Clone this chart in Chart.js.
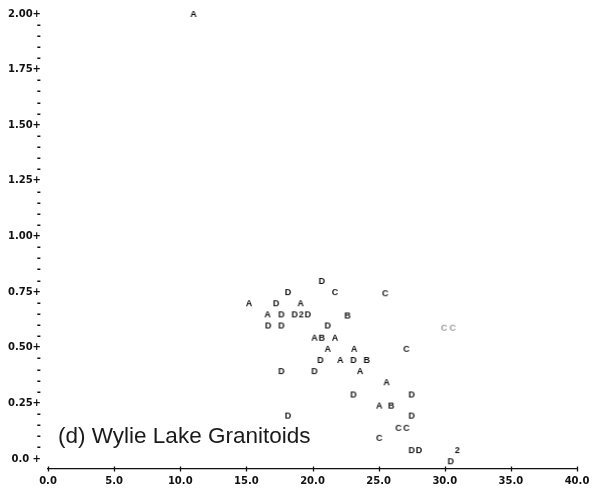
<!DOCTYPE html>
<html>
<head>
<meta charset="utf-8">
<title>Wylie Lake Granitoids</title>
<script src="https://cdn.jsdelivr.net/npm/chart.js@4"></script>
<style>
  html, body { margin: 0; padding: 0; background: #ffffff; }
  #wrap { width: 605px; height: 491px; }
</style>
</head>
<body>
<div id="wrap"><canvas id="wylieChart" width="605" height="491"></canvas></div>
<script>
// sample points (letter = plotting symbol)
const xVals = [11.0, 20.7, 18.15, 21.7, 25.5, 15.2, 17.25, 19.1, 16.6, 17.65, 18.65, 19.15, 19.65, 22.65,
  16.65, 17.65, 21.15, 20.15, 20.7, 21.7, 21.15, 23.15, 27.1, 20.6, 22.1, 23.1, 24.1, 17.65, 20.15,
  23.6, 25.6, 23.1, 27.5, 25.05, 25.95, 18.15, 27.5, 26.5, 27.1, 25.05, 27.5, 28.05, 30.95, 30.45];
const yVals = [2.0, 0.80, 0.75, 0.75, 0.745, 0.70, 0.70, 0.70, 0.65, 0.65, 0.65, 0.65, 0.65, 0.645,
  0.60, 0.60, 0.60, 0.545, 0.545, 0.545, 0.495, 0.495, 0.495, 0.445, 0.445, 0.445, 0.445, 0.395, 0.395,
  0.395, 0.345, 0.29, 0.29, 0.24, 0.24, 0.195, 0.195, 0.14, 0.14, 0.095, 0.04, 0.04, 0.04, -0.01];
const marks = ["A", "D", "D", "C", "C", "A", "D", "A", "A", "D", "D", "2", "D", "B",
  "D", "D", "D", "A", "B", "A", "A", "A", "C", "D", "A", "D", "B", "D", "D",
  "A", "A", "D", "D", "A", "B", "D", "D", "C", "C", "C", "D", "D", "2", "D"];

// the faint pair at the right
const faintX = [29.95, 30.6];
const faintY = [0.59, 0.59];
const faintMarks = ["C", "C"];

const xTickValues = [0, 5, 10, 15, 20, 25, 30, 35, 40];
const xTickLabels = ["0.0", "5.0", "10.0", "15.0", "20.0", "25.0", "30.0", "35.0", "40.0"];
const yTickValues = [0, 0.25, 0.5, 0.75, 1.0, 1.25, 1.5, 1.75, 2.0];
const yTickLabels = ["0.0", "0.25", "0.50", "0.75", "1.00", "1.25", "1.50", "1.75", "2.00"];

const plotTitle = "(d) Wylie Lake Granitoids";

// letters are drawn as little canvases used as point styles
const glyphCache = {};
function glyph(ch, color) {
  const key = ch + color;
  if (glyphCache[key]) return glyphCache[key];
  const c = document.createElement("canvas");
  c.width = 12;
  c.height = 12;
  const g = c.getContext("2d");
  g.fillStyle = color;
  g.font = "bold 9px 'Liberation Sans', Arial, sans-serif";
  g.textAlign = "center";
  g.textBaseline = "middle";
  g.fillText(ch, 6, 6.5);
  glyphCache[key] = c;
  return c;
}

const tickFont = { family: "'DejaVu Sans', sans-serif", size: 10, weight: "bold" };

// "+" marks on the dashed x axis, and the panel caption
const axisDecor = {
  id: "axisDecor",
  afterDraw(chart) {
    const { ctx, chartArea, scales } = chart;
    ctx.save();
    ctx.strokeStyle = "#111";
    ctx.lineWidth = 1.3;
    xTickValues.forEach(v => {
      const px = Math.round(scales.x.getPixelForValue(v)) + 0.5;
      ctx.beginPath();
      ctx.moveTo(px, chartArea.bottom - 2.5);
      ctx.lineTo(px, chartArea.bottom + 2.5);
      ctx.stroke();
    });
    ctx.fillStyle = "#1a1a1a";
    ctx.font = "22.5px 'Liberation Sans', Arial, sans-serif";
    ctx.textAlign = "left";
    ctx.textBaseline = "alphabetic";
    ctx.fillText(plotTitle, scales.x.getPixelForValue(0.76), scales.y.getPixelForValue(0.07));
    ctx.restore();
  }
};

const ctx = document.getElementById("wylieChart").getContext("2d");

new Chart(ctx, {
  type: "scatter",
  data: {
    datasets: [
      {
        label: "samples",
        data: xVals.map((x, i) => ({ x, y: yVals[i] })),
        pointStyle: (c) => glyph(marks[c.dataIndex], "#111"),
        pointRadius: 4,
        clip: false
      },
      {
        label: "faint",
        data: faintX.map((x, i) => ({ x, y: faintY[i] })),
        pointStyle: (c) => glyph(faintMarks[c.dataIndex], "#9a9a9a"),
        pointRadius: 4,
        clip: false
      }
    ]
  },
  options: {
    responsive: false,
    animation: false,
    events: [],
    layout: { padding: { top: 14, right: 28, bottom: 0, left: 0 } },
    plugins: {
      legend: { display: false },
      tooltip: { enabled: false }
    },
    scales: {
      x: {
        type: "linear",
        min: 0,
        max: 40,
        afterBuildTicks: (scale) => {
          scale.ticks = xTickValues.map(v => ({ value: v }));
        },
        afterFit: (scale) => { scale.height = 22; },
        ticks: {
          color: "#111",
          font: tickFont,
          padding: 6,
          maxRotation: 0,
          callback: (v) => xTickLabels[xTickValues.indexOf(v)]
        },
        grid: { display: false, drawTicks: false },
        border: { display: true, color: "#111", width: 1.3, dash: [3, 3] }
      },
      y: {
        type: "linear",
        min: -0.045,
        max: 2.0,
        afterBuildTicks: (scale) => {
          const t = [];
          for (let k = 0; k <= 40; k++) t.push({ value: k / 20 });
          scale.ticks = t;
        },
        afterFit: (scale) => { scale.width = 48; },
        ticks: {
          color: "#111",
          font: tickFont,
          padding: 7,
          autoSkip: false,
          callback: (v) => {
            const i = yTickValues.findIndex(t => Math.abs(t - v) < 1e-6);
            if (i < 0) return "-";
            const lab = yTickLabels[i];
            return lab.length < 4 ? lab + " +" : lab + "+";
          }
        },
        grid: { display: false, drawTicks: false },
        border: { display: false }
      }
    }
  },
  plugins: [axisDecor]
});
</script>
</body>
</html>
